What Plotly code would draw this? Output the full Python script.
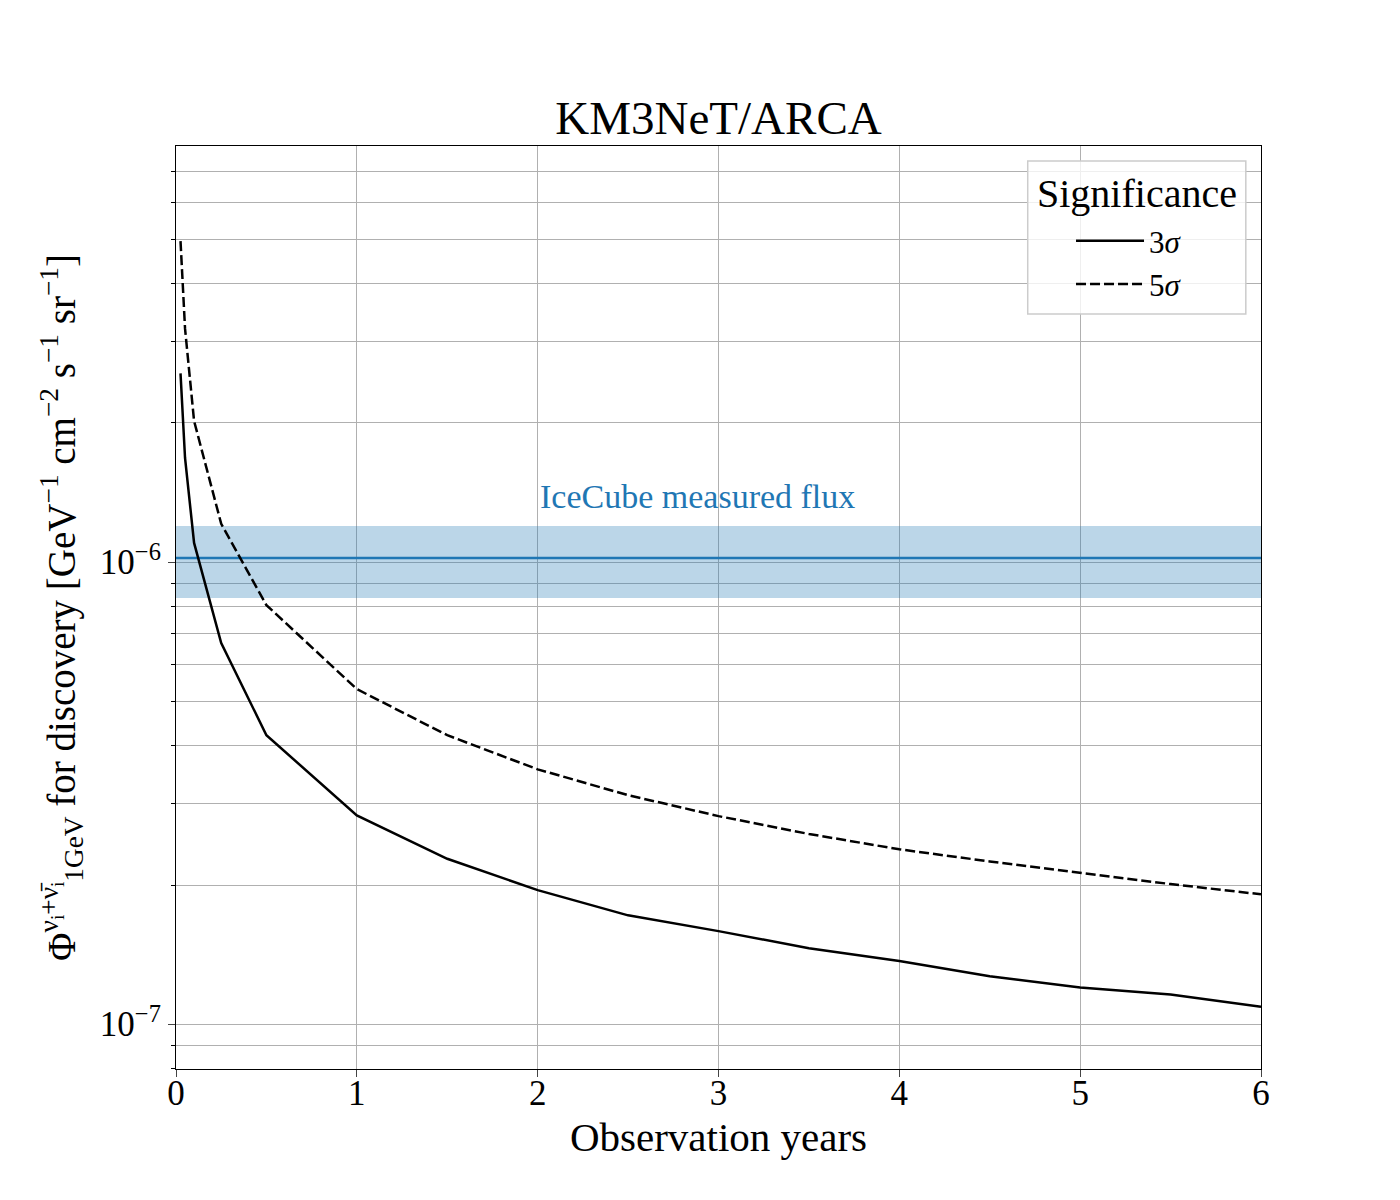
import plotly.graph_objects as go

# datos
years = [0.025, 0.05, 0.1, 0.25, 0.5, 1.0, 1.5, 2.0, 2.5, 3.0, 3.5, 4.0, 4.5, 5.0, 5.5, 6.0]
flux_3sigma = [2.56e-6, 1.68e-6, 1.10e-6, 6.68e-7, 4.22e-7, 2.83e-7, 2.28e-7, 1.95e-7, 1.72e-7,
               1.59e-7, 1.46e-7, 1.37e-7, 1.27e-7, 1.20e-7, 1.16e-7, 1.09e-7]
flux_5sigma = [4.95e-6, 3.2e-6, 2.02e-6, 1.21e-6, 8.07e-7, 5.31e-7, 4.22e-7, 3.56e-7, 3.13e-7,
               2.82e-7, 2.58e-7, 2.39e-7, 2.25e-7, 2.13e-7, 2.01e-7, 1.91e-7]

icecube_x = [0, 6]
icecube_flux = [1.02e-6, 1.02e-6]
icecube_low = [0.836e-6, 0.836e-6]
icecube_high = [1.197e-6, 1.197e-6]

major_y = [1e-7, 1e-6]
major_y_text = ['10<sup>−7</sup>', '10<sup>−6</sup>']
minor_y = [8e-8, 9e-8, 2e-7, 3e-7, 4e-7, 5e-7, 6e-7, 7e-7, 8e-7, 9e-7,
           2e-6, 3e-6, 4e-6, 5e-6, 6e-6, 7e-6]

font = 'Liberation Serif'
blue = '#1f77b4'

fig = go.Figure()

# banda de IceCube
fig.add_trace(go.Scatter(x=icecube_x, y=icecube_low, mode='lines', line=dict(width=0),
                         showlegend=False, hoverinfo='skip'))
fig.add_trace(go.Scatter(x=icecube_x, y=icecube_high, mode='lines', line=dict(width=0),
                         fill='tonexty', fillcolor='rgba(31,119,180,0.3)',
                         showlegend=False, hoverinfo='skip'))
fig.add_trace(go.Scatter(x=icecube_x, y=icecube_flux, mode='lines',
                         line=dict(color=blue, width=2.5), showlegend=False))

fig.add_trace(go.Scatter(x=years, y=flux_3sigma, mode='lines', name='3<i>σ</i>',
                         line=dict(color='black', width=2.5)))
fig.add_trace(go.Scatter(x=years, y=flux_5sigma, mode='lines', name='5<i>σ</i>',
                         line=dict(color='black', width=2.5, dash='10px,4px')))

# en ejes log la y de la anotacion va en log10
fig.add_annotation(x=2.0, y=-5.857, yref='y', xref='x', text='IceCube measured flux',
                   showarrow=False, xanchor='left', yanchor='middle',
                   font=dict(family=font, size=34, color=blue))

# caja y titulo de la leyenda (estilo matplotlib)
fig.add_shape(type='rect', xref='paper', yref='paper', x0=0.785, x1=0.986, y0=0.818, y1=0.9837,
              fillcolor='rgba(255,255,255,0.8)', line=dict(color='#cccccc', width=1.5),
              layer='above')
fig.add_annotation(x=0.8857, y=0.949, xref='paper', yref='paper', text='Significance',
                   showarrow=False, xanchor='center', yanchor='middle',
                   font=dict(family=font, size=40, color='black'))

fig.update_layout(
    width=1400, height=1200,
    margin=dict(l=168, r=147, t=138, b=139),
    paper_bgcolor='white', plot_bgcolor='white',
    font=dict(family=font, color='black', size=32),
    title=dict(text='KM3NeT/ARCA', x=0.5, xref='paper', xanchor='center',
               y=1, yref='paper', yanchor='bottom', pad=dict(b=12),
               font=dict(family=font, size=47)),
    legend=dict(x=0.8249, y=0.9263, xanchor='left', yanchor='top', traceorder='normal',
                bgcolor='rgba(0,0,0,0)', borderwidth=0,
                font=dict(size=31), itemwidth=68),
)

fig.update_xaxes(range=[0, 6], tickvals=[0, 1, 2, 3, 4, 5, 6], ticks='outside', ticklen=7,
                 tickwidth=1.2, showline=True, linecolor='black', linewidth=1.2, mirror=True,
                 showgrid=True, gridcolor='#b0b0b0', gridwidth=1, zeroline=False,
                 tickfont=dict(size=35), ticklabelstandoff=-14,
                 title=dict(text='Observation years', font=dict(size=41), standoff=10))

fig.update_yaxes(type='log', range=[-7.097, -5.0996], tickvals=major_y, ticktext=major_y_text,
                 ticks='outside', ticklen=7, tickwidth=1.2, showline=True, linecolor='black',
                 linewidth=1.2, mirror=True, showgrid=True, gridcolor='#b0b0b0', gridwidth=1,
                 zeroline=False, tickfont=dict(size=35),
                 minor=dict(tickvals=minor_y, ticks='outside', ticklen=4, tickcolor='black',
                            showgrid=True, gridcolor='#b0b0b0', gridwidth=1),
                 title=dict(text='Φ<sup>ν<sub>i</sub>+ν̄<sub>i</sub></sup><sub>1GeV</sub> for discovery '
                                 '[GeV<sup>−1</sup> cm<sup>−2</sup> s<sup>−1</sup> sr<sup>−1</sup>]',
                            font=dict(size=39), standoff=12))

fig.write_html('out.html')
